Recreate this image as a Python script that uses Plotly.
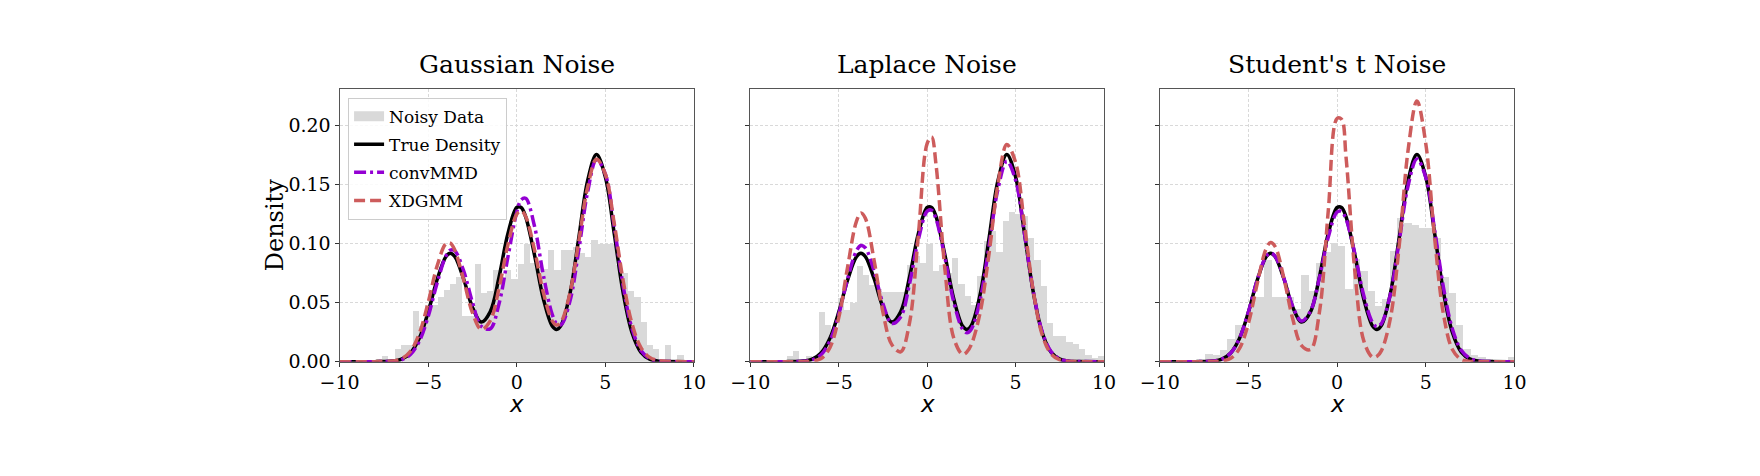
import plotly.graph_objects as go

x_grid = [-10, -8, -7.5, -7, -6.5, -6, -5.5, -5, -4.5, -4, -3.75, -3.5, -3, -2.5, -2,
          -1.5, -1, -0.5, 0, 0.25, 0.5, 1, 1.5, 2, 2.25, 2.5, 3, 3.5, 4, 4.5, 5,
          5.5, 6, 6.5, 7, 7.5, 8, 8.5, 10]

# true density (same in every panel)
true_density = [0, 0.0000, 0.0001, 0.0005, 0.0021, 0.0073, 0.0198, 0.0420, 0.0692, 0.0889,
                0.0918, 0.0891, 0.0702, 0.0461, 0.0335, 0.0422, 0.0716, 0.1084, 0.1306, 0.1307,
                0.1229, 0.0905, 0.0533, 0.0302, 0.0273, 0.0308, 0.0574, 0.1048, 0.1534, 0.1755,
                0.1564, 0.1086, 0.0587, 0.0247, 0.0081, 0.0021, 0.0004, 0.0001, 0]

# Gaussian noise panel
gauss_conv = [0, 0.0000, 0.0001, 0.0003, 0.0016, 0.0060, 0.0172, 0.0382, 0.0662, 0.0894,
              0.0945, 0.0940, 0.0771, 0.0503, 0.0299, 0.0278, 0.0491, 0.0885, 0.1267, 0.1371,
              0.1384, 0.1149, 0.0734, 0.0401, 0.0322, 0.0313, 0.0512, 0.0946, 0.1438, 0.1711,
              0.1588, 0.1147, 0.0646, 0.0283, 0.0097, 0.0026, 0.0005, 0.0001, 0]
gauss_xd = [0, 0.0000, 0.0001, 0.0005, 0.0024, 0.0087, 0.0238, 0.0500, 0.0807, 0.0998,
            0.1005, 0.0947, 0.0695, 0.0415, 0.0273, 0.0345, 0.0622, 0.0990, 0.1249, 0.1279,
            0.1232, 0.0949, 0.0587, 0.0346, 0.0310, 0.0337, 0.0581, 0.1019, 0.1478, 0.1715,
            0.1588, 0.1172, 0.0690, 0.0323, 0.0121, 0.0036, 0.0009, 0.0002, 0]
gauss_bin_start, gauss_bin_width = -7.96, 0.347
gauss_hist = [0.002, 0.005, 0.0, 0.011, 0.014, 0.014, 0.043, 0.030, 0.048, 0.048,
              0.055, 0.061, 0.066, 0.072, 0.039, 0.039, 0.083, 0.058, 0.060, 0.078,
              0.071, 0.078, 0.070, 0.083, 0.100, 0.084, 0.080, 0.079, 0.095, 0.078,
              0.095, 0.095, 0.097, 0.092, 0.089, 0.103, 0.100, 0.100, 0.100, 0.082,
              0.075, 0.060, 0.055, 0.034, 0.014, 0.011, 0.0, 0.014, 0.0, 0.006]

# Laplace noise panel
laplace_conv = [0, 0.0000, 0.0000, 0.0003, 0.0015, 0.0059, 0.0176, 0.0401, 0.0701, 0.0939,
                0.0984, 0.0965, 0.0766, 0.0489, 0.0323, 0.0379, 0.0659, 0.1035, 0.1275, 0.1283,
                0.1209, 0.0882, 0.0506, 0.0275, 0.0245, 0.0277, 0.0529, 0.0983, 0.1462, 0.1698,
                0.1536, 0.1083, 0.0594, 0.0254, 0.0085, 0.0022, 0.0004, 0.0001, 0]
laplace_xd = [0, 0.0000, 0.0000, 0.0000, 0.0004, 0.0026, 0.0119, 0.0373, 0.0802, 0.1189,
              0.1259, 0.1216, 0.0857, 0.0417, 0.0144, 0.0083, 0.0329, 0.1071, 0.1849, 0.1904,
              0.1667, 0.0785, 0.0200, 0.0062, 0.0083, 0.0146, 0.0421, 0.0919, 0.1503, 0.1839,
              0.1687, 0.1158, 0.0596, 0.0229, 0.0066, 0.0014, 0.0002, 0.0000, 0]
laplace_bin_start, laplace_bin_width = -7.92, 0.359
laplace_hist = [0.005, 0.009, 0.001, 0.005, 0.002, 0.042, 0.031, 0.028, 0.054, 0.044,
                0.050, 0.081, 0.074, 0.065, 0.062, 0.059, 0.059, 0.059, 0.059, 0.082,
                0.090, 0.084, 0.100, 0.077, 0.082, 0.075, 0.088, 0.066, 0.056, 0.048,
                0.073, 0.102, 0.111, 0.093, 0.119, 0.127, 0.125, 0.124, 0.105, 0.086,
                0.064, 0.033, 0.022, 0.022, 0.017, 0.015, 0.011, 0.006, 0.003, 0.005]

# Student's t noise panel
student_conv = [0, 0.0000, 0.0001, 0.0005, 0.0021, 0.0073, 0.0199, 0.0421, 0.0694, 0.0892,
                0.0921, 0.0894, 0.0706, 0.0468, 0.0344, 0.0428, 0.0707, 0.1054, 0.1268, 0.1274,
                0.1209, 0.0915, 0.0562, 0.0331, 0.0295, 0.0323, 0.0570, 0.1020, 0.1488, 0.1718,
                0.1561, 0.1115, 0.0626, 0.0277, 0.0096, 0.0026, 0.0006, 0.0001, 0]
student_xd = [0, 0.0000, 0.0000, 0.0001, 0.0005, 0.0028, 0.0113, 0.0325, 0.0663, 0.0957,
              0.1009, 0.0977, 0.0706, 0.0361, 0.0136, 0.0102, 0.0417, 0.1275, 0.2061, 0.2054,
              0.1740, 0.0767, 0.0178, 0.0037, 0.0045, 0.0093, 0.0364, 0.0980, 0.1789, 0.2209,
              0.1846, 0.1044, 0.0399, 0.0103, 0.0018, 0.0002, 0.0000, 0.0000, 0]
student_bin_start, student_bin_width = -7.45, 0.416
student_hist = [0.007, 0.006, 0.010, 0.019, 0.031, 0.028, 0.055, 0.055, 0.086, 0.055,
                0.055, 0.055, 0.045, 0.074, 0.060, 0.084, 0.093, 0.101, 0.098, 0.062,
                0.087, 0.077, 0.060, 0.047, 0.053, 0.094, 0.122, 0.118, 0.116, 0.113,
                0.113, 0.105, 0.072, 0.058, 0.031, 0.011, 0.006, 0.004, 0.002, 0.001,
                0.001, 0.004]

titles = ["Gaussian Noise", "Laplace Noise", "Student's t Noise"]
x_ticks = [-10, -5, 0, 5, 10]
y_ticks = [0, 0.05, 0.10, 0.15, 0.20]

panels = [
    (gauss_hist, gauss_bin_start, gauss_bin_width, gauss_conv, gauss_xd),
    (laplace_hist, laplace_bin_start, laplace_bin_width, laplace_conv, laplace_xd),
    (student_hist, student_bin_start, student_bin_width, student_conv, student_xd),
]

W, H = 1760, 476
x_domains = [(317.3, 678.3), (735.7, 1096.0), (1152.7, 1514.0)]
y_top, y_bottom = 82.7, 362.0
SERIF = "DejaVu Serif"
GREY = "#d9d9d9"

fig = go.Figure()
for i, (hist, b0, bw, conv, xd) in enumerate(panels):
    ax = "" if i == 0 else str(i + 1)
    first = i == 0
    centres = [b0 + bw * (k + 0.5) for k in range(len(hist))]
    fig.add_trace(go.Bar(x=centres, y=hist, width=bw, name="Noisy Data",
                         marker=dict(color=GREY, line=dict(width=0)),
                         showlegend=False, xaxis="x" + ax, yaxis="y" + ax))
    if first:
        # legend entry drawn as a wide grey patch, like the original
        fig.add_trace(go.Scatter(x=[None], y=[None], mode="lines", name="Noisy Data",
                                 line=dict(color=GREY, width=12), legendgroup="a"))
    fig.add_trace(go.Scatter(x=x_grid, y=true_density, mode="lines", name="True Density",
                             line=dict(color="black", width=3.5, shape="spline"),
                             legendgroup="b", showlegend=first, xaxis="x" + ax, yaxis="y" + ax))
    fig.add_trace(go.Scatter(x=x_grid, y=conv, mode="lines", name="convMMD",
                             line=dict(color="#9400D3", width=3.5, shape="spline",
                                       dash="12px,4px,3px,4px"),
                             legendgroup="c", showlegend=first, xaxis="x" + ax, yaxis="y" + ax))
    fig.add_trace(go.Scatter(x=x_grid, y=xd, mode="lines", name="XDGMM",
                             line=dict(color="#CD5C5C", width=3.5, shape="spline",
                                       dash="11px,5px"),
                             legendgroup="d", showlegend=first, xaxis="x" + ax, yaxis="y" + ax))

axis_common = dict(showline=True, linecolor="#555555", linewidth=1, mirror=True,
                   ticks="outside", ticklen=4, tickwidth=1, tickcolor="#333333",
                   showgrid=True, gridcolor="#d9d9d9", gridwidth=0.8, griddash="3px,2px",
                   zeroline=False, tickfont=dict(family=SERIF, size=19, color="black"))

layout = dict(width=W, height=H, margin=dict(l=0, r=0, t=0, b=0),
              paper_bgcolor="white", plot_bgcolor="white", bargap=0,
              showlegend=True)
annotations = []
for i in range(3):
    ax = "" if i == 0 else str(i + 1)
    x0, x1 = x_domains[i]
    layout["xaxis" + ax] = dict(axis_common, domain=[x0 / W, x1 / W], range=[-10, 10],
                                tickvals=x_ticks, anchor="y" + ax)
    layout["yaxis" + ax] = dict(axis_common, domain=[1 - y_bottom / H, 1 - y_top / H],
                                range=[0, 0.2312], tickvals=y_ticks, tickformat=".2f",
                                showticklabels=(i == 0), anchor="x" + ax)
    xc = (x0 + x1) / 2 / W
    annotations.append(dict(text=titles[i], x=xc, y=1 - 75 / H, xref="paper", yref="paper",
                            xanchor="center", yanchor="bottom", showarrow=False,
                            font=dict(family=SERIF, size=25, color="black")))
    annotations.append(dict(text="x", x=xc, y=1 - 390 / H, xref="paper", yref="paper",
                            xanchor="center", yanchor="top", showarrow=False,
                            font=dict(family="DejaVu Sans", size=23, color="black",
                                      style="italic")))
annotations.append(dict(text="Density", x=251.7 / W, y=1 - 222.3 / H, xref="paper",
                        yref="paper", xanchor="center", yanchor="middle", textangle=-90,
                        showarrow=False, font=dict(family=SERIF, size=24, color="black")))
layout["annotations"] = annotations
layout["legend"] = dict(x=326 / W, y=1 - 91.7 / H, xanchor="left", yanchor="top",
                        bgcolor="rgba(255,255,255,0.85)", bordercolor="#cccccc",
                        borderwidth=1, font=dict(family=SERIF, size=17, color="black"),
                        traceorder="grouped", tracegroupgap=3)
fig.update_layout(**layout)

fig.write_html("out.html")
